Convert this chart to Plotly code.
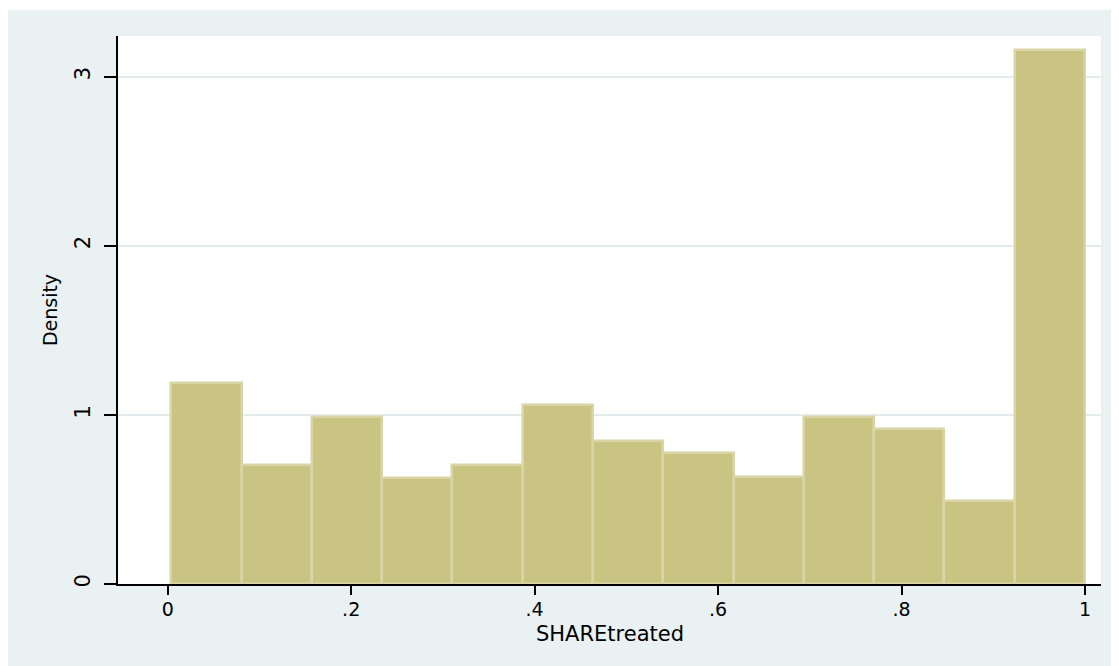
import plotly.graph_objects as go

# Histogram of SHAREtreated (13 bins)
bin_start = 0.004
bin_end = 1.0
density = [1.190, 0.702, 0.989, 0.629, 0.704, 1.060, 0.846, 0.777, 0.631, 0.986, 0.917, 0.489, 3.158]
x_tickvals = [0, 0.2, 0.4, 0.6, 0.8, 1.0]
x_ticktext = ["0", ".2", ".4", ".6", ".8", "1"]
y_tickvals = [0, 1, 2, 3]
y_ticktext = ["0", "1", "2", "3"]

n = len(density)
w = (bin_end - bin_start) / n
centers = [bin_start + w * (i + 0.5) for i in range(n)]

PANEL = "#E9F1F3"
FILL = "#C9C482"
EDGE = "#D9D5A6"

fig = go.Figure()
fig.add_trace(go.Bar(
    x=centers, y=density, width=[w] * n,
    marker=dict(color=FILL, line=dict(color=EDGE, width=2.5)),
    hoverinfo="x+y", showlegend=False,
))

fig.update_layout(
    width=1111, height=658,
    margin=dict(l=110, r=18, t=28, b=82),
    paper_bgcolor=PANEL,
    plot_bgcolor="white",
    bargap=0,
    font=dict(family="DejaVu Sans", color="black"),
    shapes=[
        dict(type="rect", xref="paper", yref="paper", x0=-0.2, x1=1.1, y0=1.0474, y1=1.2,
             fillcolor="white", line=dict(width=0), layer="below"),
    ],
    annotations=[
        dict(text="SHAREtreated", xref="paper", yref="paper", x=0.5, y=-0.0912,
             xanchor="center", yanchor="middle", showarrow=False,
             font=dict(size=21, family="DejaVu Sans", color="black")),
    ],
)

fig.update_xaxes(
    range=[-0.0542, 1.0175],
    tickvals=x_tickvals, ticktext=x_ticktext,
    ticks="outside", ticklen=9, tickwidth=2, tickcolor="black",
    showline=True, linecolor="black", linewidth=2,
    showgrid=False, zeroline=False,
    tickfont=dict(size=19, family="DejaVu Sans"),
    ticklabelstandoff=-2,
)
fig.update_yaxes(
    range=[0, 3.2407],
    tickvals=y_tickvals, ticktext=y_ticktext,
    ticks="outside", ticklen=12, tickwidth=2, tickcolor="black",
    tickangle=-90,
    showline=True, linecolor="black", linewidth=2,
    showgrid=True, gridcolor="#E3EBEE", gridwidth=1.5,
    zeroline=False,
    tickfont=dict(size=21, family="DejaVu Sans"),
    ticklabelstandoff=6,
    title=dict(text="Density", font=dict(size=19, family="DejaVu Sans"), standoff=8),
)

fig.write_html("out.html")
